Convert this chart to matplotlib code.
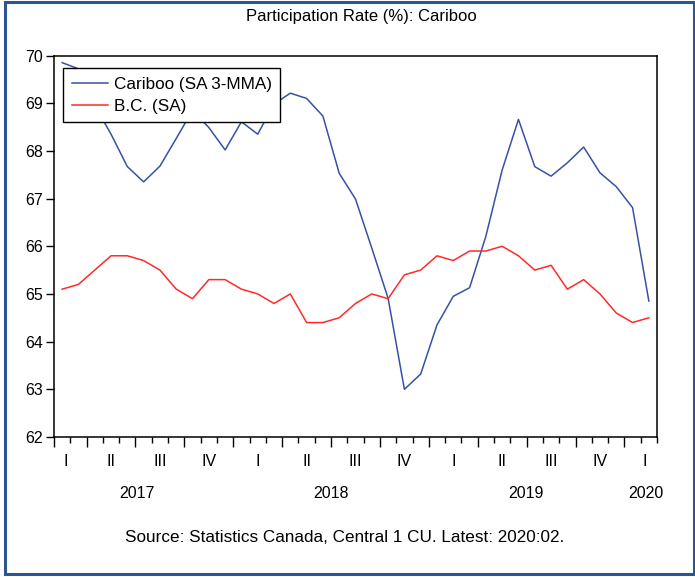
import matplotlib
matplotlib.use('Agg')
import matplotlib.pyplot as plt
from matplotlib.patches import Rectangle

# Monthly participation rate, Feb 2017 .. Feb 2020
cariboo = [69.85, 69.72, 68.95, 68.35, 67.67, 67.35, 67.68, 68.26, 68.85, 68.49,
           68.02, 68.61, 68.35, 68.98, 69.21, 69.10, 68.73, 67.53, 66.99, 65.96,
           64.91, 63.00, 63.32, 64.35, 64.95, 65.13, 66.21, 67.60, 68.66, 67.67,
           67.47, 67.75, 68.08, 67.54, 67.25, 66.81, 64.85]
bc = [65.1, 65.2, 65.5, 65.8, 65.8, 65.7, 65.5, 65.1, 64.9, 65.3,
      65.3, 65.1, 65.0, 64.8, 65.0, 64.4, 64.4, 64.5, 64.8, 65.0,
      64.9, 65.4, 65.5, 65.8, 65.7, 65.9, 65.9, 66.0, 65.8, 65.5,
      65.6, 65.1, 65.3, 65.0, 64.6, 64.4, 64.5]

quarter_labels = ['I', 'II', 'III', 'IV', 'I', 'II', 'III', 'IV',
                  'I', 'II', 'III', 'IV', 'I']
quarter_pos = [0.2, 3, 6, 9, 12, 15, 18, 21, 24, 27, 30, 33, 35.75]
year_labels = ['2017', '2018', '2019', '2020']
year_pos = [4.6, 16.5, 28.45, 35.8]

FONT = 'Liberation Sans'
BLUE = '#3552a6'
RED = '#ff2a2a'

fig = plt.figure(figsize=(6.95, 5.77), dpi=100)
ax = fig.add_axes([54 / 695, 140 / 577, 603 / 695, 381.5 / 577])

x = list(range(len(cariboo)))
ax.plot(x, cariboo, color=BLUE, lw=1.1, label='Cariboo (SA 3-MMA)')
ax.plot(x, bc, color=RED, lw=1.1, label='B.C. (SA)')

ax.set_xlim(-0.5, len(cariboo) - 0.5)
ax.set_ylim(62, 70)
ax.set_yticks(range(62, 71))
ax.set_yticklabels([str(v) for v in range(62, 71)], fontsize=11.5, family=FONT)
ax.tick_params(axis='y', length=6, width=1, direction='out', pad=2)

# month boundaries as small ticks, quarter boundaries as long ones
bounds = [i - 0.5 for i in range(len(cariboo) + 1)]
major = [b for k, b in enumerate(bounds) if k == 0 or (k + 1) % 3 == 0]
minor = [b for b in bounds if b not in major]
ax.set_xticks(major)
ax.set_xticks(minor, minor=True)
ax.set_xticklabels([])
ax.tick_params(axis='x', which='major', length=7, width=1, direction='out')
ax.tick_params(axis='x', which='minor', length=4, width=1, direction='out')

for p, lab in zip(quarter_pos, quarter_labels):
    ax.text(p, -0.065, lab, transform=ax.get_xaxis_transform(), ha='center',
            va='center', fontsize=11.5, family=FONT)
for p, lab in zip(year_pos, year_labels):
    ax.text(p, -0.147, lab, transform=ax.get_xaxis_transform(), ha='center',
            va='center', fontsize=11.5, family=FONT)

for s in ax.spines.values():
    s.set_linewidth(1.1)

leg = ax.legend(loc='upper left', bbox_to_anchor=(0.0154, 0.966), borderaxespad=0,
                fancybox=False, edgecolor='black', framealpha=1,
                prop={'family': FONT, 'size': 12.3}, handlelength=2.1,
                handletextpad=0.35, labelspacing=0.38, borderpad=0.5)
leg.get_frame().set_linewidth(1.0)

fig.text(361 / 695, 1 - 17 / 577, 'Participation Rate (%): Cariboo', ha='center',
         va='center', fontsize=12, family=FONT)
fig.text(345 / 695, 1 - 538 / 577, 'Source: Statistics Canada, Central 1 CU. Latest: 2020:02.',
         ha='center', va='center', fontsize=12.3, family=FONT)

# outer frame
fig.patches.append(Rectangle((4.8 / 695, 3 / 577), 688.7 / 695, 572.5 / 577,
                             transform=fig.transFigure, fill=False,
                             edgecolor='#2b5593', lw=2.2))

fig.savefig('out.png', dpi=100)
